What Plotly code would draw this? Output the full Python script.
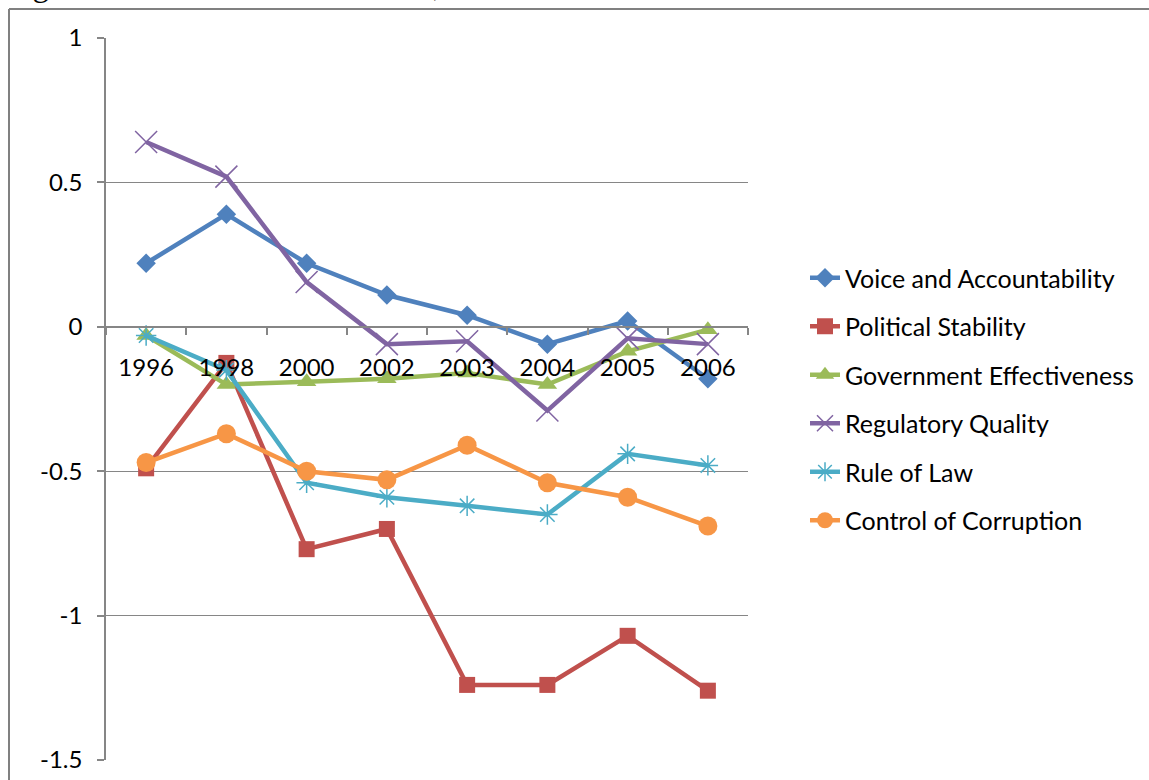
import plotly.graph_objects as go

years = ["1996", "1998", "2000", "2002", "2003", "2004", "2005", "2006"]
voice_accountability = [0.22, 0.39, 0.22, 0.11, 0.04, -0.06, 0.02, -0.18]
political_stability = [-0.49, -0.125, -0.77, -0.70, -1.24, -1.24, -1.07, -1.26]
government_effectiveness = [-0.03, -0.20, -0.19, -0.18, -0.16, -0.20, -0.085, -0.01]
regulatory_quality = [0.64, 0.52, 0.155, -0.06, -0.05, -0.29, -0.04, -0.06]
rule_of_law = [-0.03, -0.15, -0.54, -0.59, -0.62, -0.65, -0.44, -0.48]
control_of_corruption = [-0.47, -0.37, -0.50, -0.53, -0.41, -0.54, -0.59, -0.69]

series_names = ["Voice and Accountability", "Political Stability", "Government Effectiveness",
                "Regulatory Quality", "Rule of Law", "Control of Corruption"]
series_values = [voice_accountability, political_stability, government_effectiveness,
                 regulatory_quality, rule_of_law, control_of_corruption]
colors = ["#4F81BD", "#C0504D", "#9BBB59", "#8064A2", "#4BACC6", "#F79646"]
symbols = ["diamond", "square", "triangle-up", "x-thin", "asterisk", "circle"]
sizes = [15, 16, 17, 22, 17, 19]

ytick_vals = [1, 0.5, 0, -0.5, -1, -1.5]
ytick_labels = ["1", "0.5", "0", "-0.5", "-1", "-1.5"]

title_text = "Figure 3: Governance Indicators, 1996-2006"

FONT = "Lato"

fig = go.Figure()
for i, (name, vals) in enumerate(zip(series_names, series_values)):
    line_marker = symbols[i] in ("x-thin", "asterisk")
    marker = dict(symbol=symbols[i], size=sizes[i], color=colors[i])
    if line_marker:
        marker["line"] = dict(color=colors[i], width=1.5)
    else:
        marker["line"] = dict(width=0)
    fig.add_trace(go.Scatter(
        x=years, y=vals, name=name, mode="lines+markers",
        line=dict(color=colors[i], width=4.5),
        marker=marker, legendgroup=name,
    ))

W, H = 1149, 780
L, R, T, B = 106, 1149 - 748, 38, 20
pw, ph = W - L - R, H - T - B


def px2x(px):
    return (px - L) / pw


def py2y(py):
    return (H - B - py) / ph


fig.update_layout(
    width=W, height=H,
    margin=dict(l=L, r=R, t=T, b=B, pad=0, autoexpand=False),
    paper_bgcolor="white", plot_bgcolor="white",
    font=dict(family=FONT, size=24, color="black"),
    showlegend=True,
    legend=dict(x=px2x(805), xanchor="left", y=0.5, yanchor="middle",
                font=dict(family=FONT, size=25, color="black"),
                tracegroupgap=13, traceorder="grouped",
                bgcolor="rgba(0,0,0,0)"),
    xaxis=dict(type="category", categoryorder="array", categoryarray=years,
               range=[-0.5, 7.5], anchor="free", position=0.6, automargin=False,
               showline=True, linecolor="#868686", linewidth=1.5,
               ticks="outside", tickson="boundaries", ticklen=7, tickcolor="#868686",
               tickwidth=1.5, showgrid=False, zeroline=False,
               tickfont=dict(family=FONT, size=24, color="black"),
               ticklabelstandoff=20),
    yaxis=dict(range=[-1.5, 1], tickvals=ytick_vals, ticktext=ytick_labels,
               automargin=False,
               showline=True, linecolor="#868686", linewidth=1.5,
               ticks="outside", ticklen=7, tickcolor="#868686", tickwidth=1.5,
               showgrid=True, gridcolor="#868686", gridwidth=1.3, zeroline=False,
               tickfont=dict(family=FONT, size=24, color="black"),
               ticklabelstandoff=10),
    shapes=[
        dict(type="line", xref="paper", yref="paper",
             x0=px2x(9), x1=px2x(9), y0=py2y(9), y1=py2y(800),
             line=dict(color="#808080", width=2)),
        dict(type="line", xref="paper", yref="paper",
             x0=px2x(9), x1=px2x(1160), y0=py2y(9), y1=py2y(9),
             line=dict(color="#808080", width=2)),
    ],
    annotations=[
        dict(text=title_text, xref="paper", yref="paper", x=px2x(3), y=py2y(5),
             xanchor="left", yanchor="bottom", showarrow=False,
             font=dict(family="Liberation Serif", size=33, color="black")),
    ],
)

fig.write_html("out.html", config={"displayModeBar": False},
               post_script="document.body.style.margin='0';document.body.style.overflow='hidden';")
